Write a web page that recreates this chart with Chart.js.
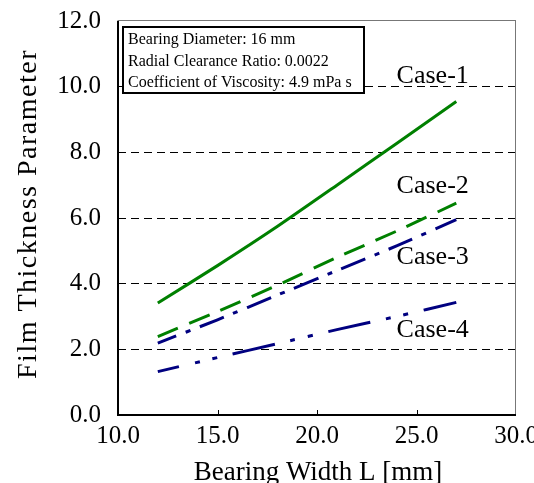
<!DOCTYPE html>
<html>
<head>
<meta charset="utf-8">
<script src="https://cdn.jsdelivr.net/npm/chart.js@4/dist/chart.umd.min.js"></script>
<style>
html, body { margin: 0; padding: 0; background: #fff; }
</style>
</head>
<body>
<canvas id="chart" width="534" height="483"></canvas>
<script>
// bearing width L [mm]
const widthL = [12, 15, 18, 21, 24, 27];
const case1 = [3.41, 4.55, 5.74, 7.00, 8.27, 9.55];
const case2 = [2.39, 3.15, 3.95, 4.80, 5.60, 6.45];
const case3 = [2.19, 2.90, 3.65, 4.40, 5.15, 5.95];
const case4 = [1.32, 1.75, 2.17, 2.60, 3.00, 3.43];

const caseNames = ['Case-1', 'Case-2', 'Case-3', 'Case-4'];
const caseLabelX = [24.0, 24.0, 24.0, 24.0];
const caseLabelY = [10.33, 6.98, 4.82, 2.59];

const infoLines = [
  'Bearing Diameter: 16 mm',
  'Radial Clearance Ratio: 0.0022',
  'Coefficient of Viscosity: 4.9 mPa s'
];

const serif = '"Liberation Serif", "Times New Roman", serif';
const green = '#008000';
const navy = '#000080';

const pts = ys => ys.map((y, i) => ({ x: widthL[i], y: y }));

// frame, inward ticks, axis titles, info box, case labels
const decor = {
  id: 'decor',
  afterDraw(chart) {
    const ctx = chart.ctx;
    const a = chart.chartArea;
    const xs = chart.scales.x, ys = chart.scales.y;
    ctx.save();
    // frame
    ctx.strokeStyle = '#777';
    ctx.lineWidth = 1;
    ctx.strokeRect(a.left, a.top - 0.5, a.right - a.left - 0.5, a.bottom - a.top);
    ctx.strokeStyle = '#000';
    ctx.lineWidth = 2;
    ctx.beginPath();
    ctx.moveTo(a.left, a.top);
    ctx.lineTo(a.left, a.bottom);
    ctx.lineTo(a.right, a.bottom);
    ctx.stroke();
    // inward x ticks
    ctx.lineWidth = 1;
    [15, 20, 25].forEach(v => {
      const px = Math.round(xs.getPixelForValue(v)) + 0.5;
      ctx.beginPath();
      ctx.moveTo(px, a.bottom);
      ctx.lineTo(px, a.bottom - 5);
      ctx.stroke();
    });
    // axis titles
    ctx.fillStyle = '#000';
    ctx.textAlign = 'center';
    ctx.textBaseline = 'middle';
    ctx.font = '27px ' + serif;
    ctx.fillText('Bearing Width L [mm]', 318, 473);
    ctx.save();
    ctx.translate(29, 214);
    ctx.rotate(-Math.PI / 2);
    ctx.font = '28px ' + serif;
    ctx.letterSpacing = '1.5px';
    ctx.fillText('Film Thickness Parameter', 0, 0);
    ctx.restore();
    // info box
    ctx.fillStyle = '#fff';
    ctx.fillRect(123, 27, 241, 66);
    ctx.strokeStyle = '#000';
    ctx.lineWidth = 2;
    ctx.strokeRect(123, 27, 241, 66);
    ctx.fillStyle = '#000';
    ctx.font = '16px ' + serif;
    ctx.textAlign = 'left';
    infoLines.forEach((t, i) => ctx.fillText(t, 128, 40 + i * 21.5));
    // case labels
    ctx.font = '26px ' + serif;
    caseNames.forEach((t, i) => {
      ctx.fillText(t, xs.getPixelForValue(caseLabelX[i]), ys.getPixelForValue(caseLabelY[i]));
    });
    ctx.restore();
  }
};

new Chart(document.getElementById('chart'), {
  type: 'line',
  data: {
    datasets: [
      { label: 'Case-1', data: pts(case1), borderColor: green, borderWidth: 3 },
      { label: 'Case-2', data: pts(case2), borderColor: green, borderWidth: 3, borderDash: [22, 12] },
      { label: 'Case-3', data: pts(case3), borderColor: navy, borderWidth: 3, borderDash: [26, 10, 5, 10], borderDashOffset: 6 },
      { label: 'Case-4', data: pts(case4), borderColor: navy, borderWidth: 3, borderDash: [43, 16, 5, 13, 5, 16], borderDashOffset: 21 }
    ]
  },
  options: {
    responsive: false,
    animation: false,
    layout: { padding: { left: 0, right: 18, top: 21, bottom: 0 } },
    elements: { point: { radius: 0 }, line: { tension: 0.2, borderCapStyle: 'butt' } },
    plugins: { legend: { display: false }, tooltip: { enabled: false } },
    scales: {
      x: {
        type: 'linear',
        min: 10, max: 30,
        afterFit: s => { s.height = 68; s.paddingLeft = 0; s.paddingRight = 0; },
        grid: { display: false, drawTicks: false },
        border: { display: false },
        ticks: {
          stepSize: 5,
          padding: 6,
          color: '#000',
          font: { family: serif, size: 25 },
          maxRotation: 0,
          callback: v => v.toFixed(1)
        }
      },
      y: {
        min: 0, max: 12,
        afterFit: s => { s.width = 118; s.paddingTop = 0; s.paddingBottom = 0; },
        grid: {
          drawTicks: false,
          lineWidth: 1,
          color: c => (c.tick && c.tick.value > 0 && c.tick.value < 12) ? '#000' : 'rgba(0,0,0,0)'
        },
        border: { display: false, dash: [8, 5] },
        ticks: {
          stepSize: 2,
          padding: 17,
          color: '#000',
          font: { family: serif, size: 25 },
          callback: v => v.toFixed(1)
        }
      }
    }
  },
  plugins: [decor]
});
</script>
</body>
</html>
